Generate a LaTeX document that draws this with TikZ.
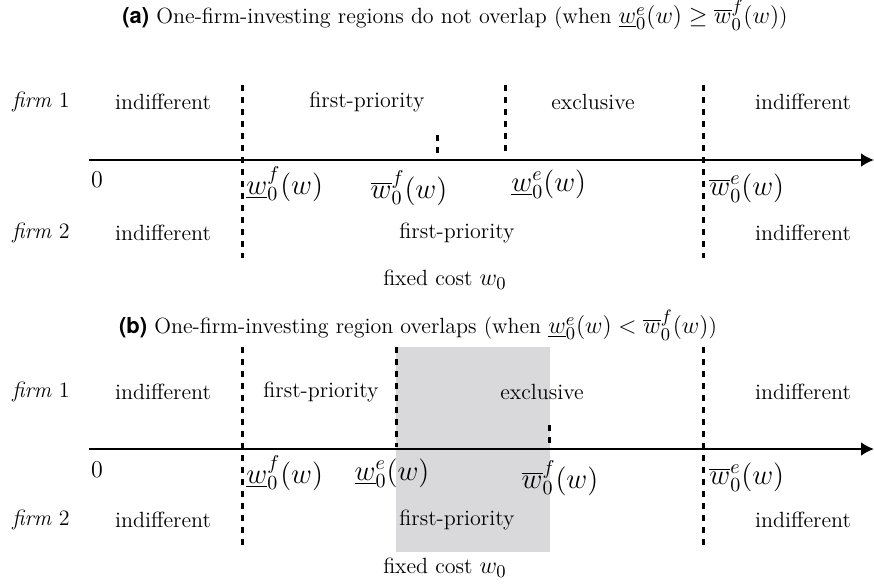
\documentclass[tikz,border=0pt]{standalone}
\usepackage{fontspec}
\usetikzlibrary{arrows.meta}
\newfontfamily\headfont{TeX Gyre Heros}
\definecolor{boxgray}{RGB}{217,217,219}
\newcommand{\bigmath}[1]{{\fontsize{12.6}{14}\selectfont$#1$}}
\begin{document}
\begin{tikzpicture}[x=0.5pt,y=-0.5pt,
  txt/.style={inner sep=0pt,font=\fontsize{11}{13}\selectfont},
  lbl/.style={inner sep=0pt,font=\fontsize{13.8}{16}\selectfont},
  axisline/.style={line width=1.25pt,-{Latex[length=6.5pt,width=7pt]}},
  vdash/.style={line width=1.5pt,dash pattern=on 3pt off 3pt},
]
\useasboundingbox (0,0) rectangle (874,584);
% ---------- panel (a)
\node[txt] (ta) at (455,15) {{\headfont\bfseries (a)} One-firm-investing regions do not overlap (when \bigmath{\underline{w}_0^e(w)\geq\overline{w}_0^f(w)})};
\coordinate (a0) at (89,160);
\coordinate (a1) at (874,160);
\draw[axisline] (a0) -- (a1);
\coordinate (d1t) at (242,85); \coordinate (d1b) at (242,258);
\coordinate (d2t) at (437,135); \coordinate (d2b) at (437,158);
\coordinate (d3t) at (505,85); \coordinate (d3b) at (505,156);
\coordinate (d4t) at (703,85); \coordinate (d4b) at (703,258);
\draw[vdash] (d1t) -- (d1b);
\draw[vdash] (d2t) -- (d2b);
\draw[vdash] (d3t) -- (d3b);
\draw[vdash] (d4t) -- (d4b);
\node[txt,anchor=west] (af1) at (12,102) {\textit{firm} 1};
\node[txt] (af1a) at (163,102) {indifferent};
\node[txt] (af1b) at (367,102) {first-priority};
\node[txt] (af1c) at (593,102) {exclusive};
\node[txt] (af1d) at (803,102) {indifferent};
\node[txt] (al0) at (97,180) {\bigmath{0}};
\node[lbl,anchor=west] (al1) at (246,184) {$\underline{w}_0^f(w)$};
\node[lbl] (al2) at (409,188) {$\overline{w}_0^f(w)$};
\node[lbl,anchor=west] (al3) at (511,184) {$\underline{w}_0^e(w)$};
\node[lbl,anchor=west] (al4) at (709,188) {$\overline{w}_0^e(w)$};
\node[txt,anchor=west] (af2) at (12,233) {\textit{firm} 2};
\node[txt] (af2a) at (163,233) {indifferent};
\node[txt] (af2b) at (457,233) {first-priority};
\node[txt] (af2c) at (803,233) {indifferent};
\node[txt] (afc) at (445,280) {fixed cost \bigmath{w_0}};
% ---------- panel (b)
\node[txt] (tb) at (418,325) {{\headfont\bfseries (b)} One-firm-investing region overlaps (when \bigmath{\underline{w}_0^e(w)<\overline{w}_0^f(w)})};
\coordinate (g1) at (396,347); \coordinate (g2) at (550,552);
\fill[boxgray] (g1) rectangle (g2);
\coordinate (b0) at (89,449);
\coordinate (b1) at (874,449);
\draw[axisline] (b0) -- (b1);
\coordinate (e1t) at (242,347); \coordinate (e1b) at (242,545);
\coordinate (e2t) at (396,347); \coordinate (e2b) at (396,447);
\coordinate (e3t) at (549,425); \coordinate (e3b) at (549,447);
\coordinate (e4t) at (703,347); \coordinate (e4b) at (703,545);
\draw[vdash] (e1t) -- (e1b);
\draw[vdash] (e2t) -- (e2b);
\draw[vdash] (e3t) -- (e3b);
\draw[vdash] (e4t) -- (e4b);
\node[txt,anchor=west] (bf1) at (12,392) {\textit{firm} 1};
\node[txt] (bf1a) at (163,392) {indifferent};
\node[txt] (bf1b) at (321,392) {first-priority};
\node[txt] (bf1c) at (542,392) {exclusive};
\node[txt] (bf1d) at (803,392) {indifferent};
\node[txt] (bl0) at (97,470) {\bigmath{0}};
\node[lbl,anchor=west] (bl1) at (246,473) {$\underline{w}_0^f(w)$};
\node[lbl] (bl2) at (392,473) {$\underline{w}_0^e(w)$};
\node[lbl] (bl3) at (560,478) {$\overline{w}_0^f(w)$};
\node[lbl,anchor=west] (bl4) at (709,477) {$\overline{w}_0^e(w)$};
\node[txt,anchor=west] (bf2) at (12,520) {\textit{firm} 2};
\node[txt] (bf2a) at (163,520) {indifferent};
\node[txt] (bf2b) at (457,520) {first-priority};
\node[txt] (bf2c) at (803,520) {indifferent};
\node[txt] (bfc) at (445,568) {fixed cost \bigmath{w_0}};
\end{tikzpicture}
\end{document}
